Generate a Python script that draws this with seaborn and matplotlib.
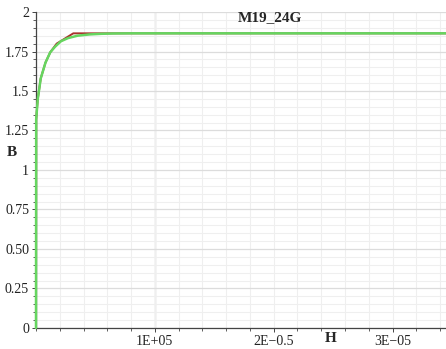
import numpy as np
import pandas as pd
import seaborn as sns
import matplotlib.pyplot as plt
from matplotlib.ticker import MultipleLocator

# B-H data
h_meas = [0, 150, 1500, 4000, 8000, 12000, 16000, 21000, 27000, 35000, 45000, 55000, 65000, 80000, 345000]
b_meas = [0, 1.32, 1.45, 1.58, 1.68, 1.745, 1.78, 1.815, 1.835, 1.85, 1.858, 1.862, 1.864, 1.865, 1.865]

h_fit = [0, 150, 1500, 4000, 8000, 12000, 17400, 31400, 345000]
b_fit = [0, 1.32, 1.45, 1.58, 1.68, 1.745, 1.80, 1.865, 1.865]

x_ticks = [1e5, 2e5, 3e5]
x_labels = ["1E+05", "2E\u22120.5", "3E\u221205"]
y_ticks = [0, 0.25, 0.5, 0.75, 1, 1.25, 1.5, 1.75, 2]
y_labels = ["0", "0.25", "0.50", "0.75", "1", "1.25", "1.5", "1.75", "2"]

sns.set_style("white")
plt.rcParams["font.family"] = ["Liberation Serif", "DejaVu Serif"]

fig = plt.figure(figsize=(4.46, 3.49), dpi=100)
ax = fig.add_axes([0.0807, 0.0602, 0.9193, 0.9054])

fit = pd.DataFrame({"H": h_fit, "B": b_fit})
meas = pd.DataFrame({"H": h_meas, "B": b_meas})
sns.lineplot(data=fit, x="H", y="B", sort=False, color="#a8322c", lw=1.4, ax=ax)
sns.lineplot(data=meas, x="H", y="B", sort=False, color="#66d660", lw=1.8, ax=ax)
for ln in ax.lines:
    ln.set_clip_on(False)
    ln.set_zorder(3)

ax.set_xlim(0, 345000)
ax.set_ylim(0, 2)
ax.set_xticks(x_ticks)
ax.set_xticklabels(x_labels)
ax.set_yticks(y_ticks)
ax.set_yticklabels(y_labels)
ax.xaxis.set_minor_locator(MultipleLocator(20000))
ax.yaxis.set_minor_locator(MultipleLocator(0.05))

ax.grid(which="minor", color="#efefef", lw=0.8)
ax.grid(which="major", axis="y", color="#dcdcdc", lw=0.9)
ax.grid(which="major", axis="x", color="#efefef", lw=0.8)
ax.axvline(1e5, color="#cfcfcf", lw=1.0, zorder=0.5)
ax.set_axisbelow(True)

for s in ["top", "right"]:
    ax.spines[s].set_visible(False)
for s in ["left", "bottom"]:
    ax.spines[s].set_color("#444444")
    ax.spines[s].set_linewidth(0.9)

ax.tick_params(which="major", direction="out", length=3, width=0.7, color="#444444",
               labelsize=10, labelcolor="#222222", pad=2, left=True, bottom=True)
ax.tick_params(which="minor", direction="out", length=2, width=0.6, color="#444444",
               left=True, bottom=True)

ax.set_xlabel("")
ax.set_ylabel("")
fig.text(12 / 446, 1 - 152 / 349, "B", fontsize=11, fontweight="bold", ha="center", va="center")
fig.text(331 / 446, 1 - 339 / 349, "H", fontsize=11, fontweight="bold", ha="center", va="center")
fig.text(270 / 446, 1 - 18 / 349, "M19_24G", fontsize=11, fontweight="bold", ha="center", va="center")

fig.savefig("out.png", dpi=100)
